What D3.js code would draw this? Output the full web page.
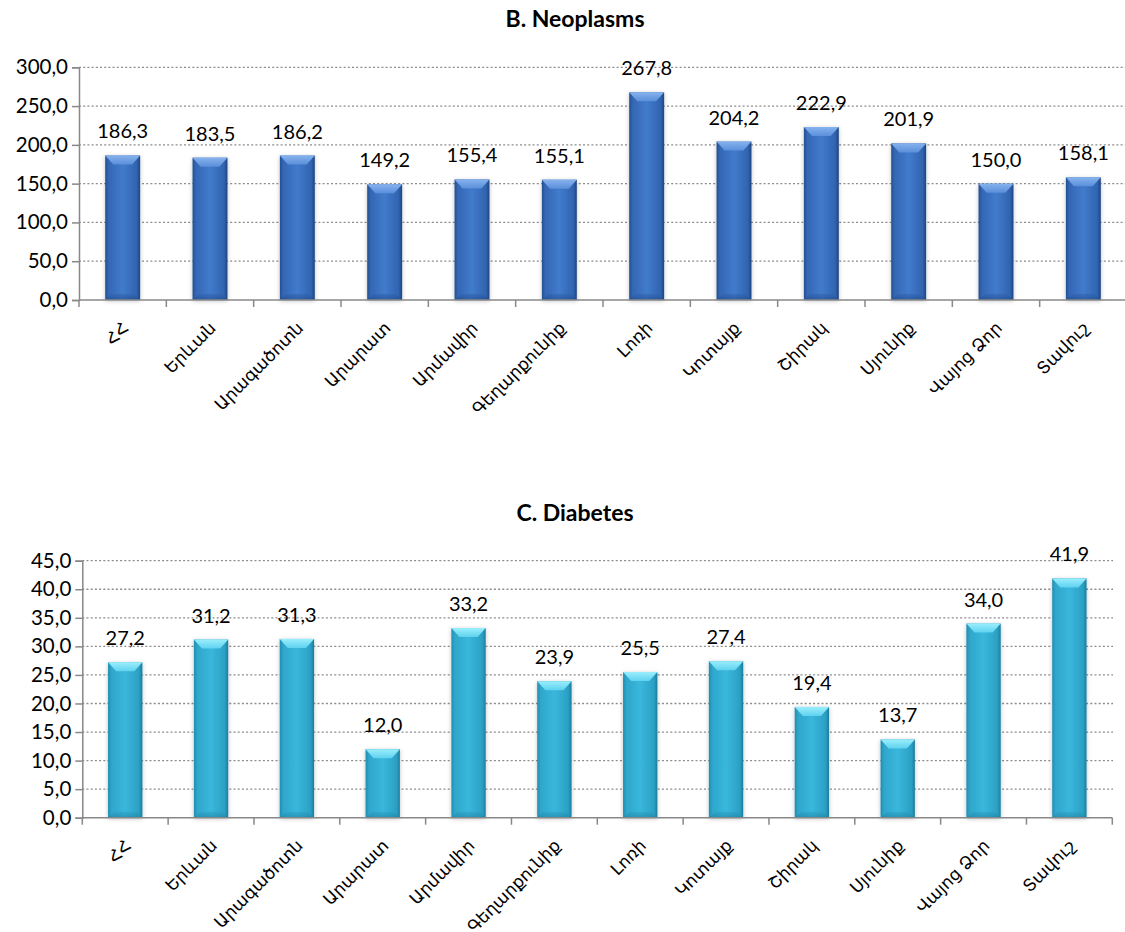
<!DOCTYPE html>
<html>
<head>
<meta charset="utf-8">
<script src="https://cdn.jsdelivr.net/npm/d3@7"></script>
<style>
  html, body { margin: 0; padding: 0; background: #fff; }
  svg { display: block; }
  text { font-family: Lato, "DejaVu Sans", sans-serif; fill: #000; }
</style>
</head>
<body>
<svg id="chart" width="1125" height="932"></svg>
<script>
// ---- data ----
const regions = ["ՀՀ", "Երևան", "Արագածոտն", "Արարատ", "Արմավիր", "Գեղարքունիք", "Լոռի", "Կոտայք", "Շիրակ", "Սյունիք", "Վայոց Ձոր", "Տավուշ"];
const neoplasms = [186.3, 183.5, 186.2, 149.2, 155.4, 155.1, 267.8, 204.2, 222.9, 201.9, 150.0, 158.1];
const diabetes = [27.2, 31.2, 31.3, 12.0, 33.2, 23.9, 25.5, 27.4, 19.4, 13.7, 34.0, 41.9];
const neoTicks = [0, 50, 100, 150, 200, 250, 300];
const diaTicks = [0, 5, 10, 15, 20, 25, 30, 35, 40, 45];
const titles = ["B. Neoplasms", "C. Diabetes"];

const svg = d3.select("#chart");
const defs = svg.append("defs");
const fmt = v => v.toFixed(1).replace(".", ",");

function makeGrad(id, stops, vertical) {
  const g = defs.append("linearGradient").attr("id", id)
    .attr("x1", "0").attr("y1", "0")
    .attr("x2", vertical ? "0" : "1").attr("y2", vertical ? "1" : "0");
  stops.forEach(s => g.append("stop").attr("offset", s[0]).attr("stop-color", s[1]));
}
makeGrad("bodyBlue", [[0, "#24508f"], [0.1, "#3467b5"], [0.5, "#427bcc"], [0.9, "#3064b0"], [1, "#1c4582"]]);
makeGrad("topBlue", [[0, "#86b2ee"], [1, "#5a8fda"]], true);
makeGrad("botBlue", [[0, "#2f62ad"], [1, "#1d447f"]], true);
makeGrad("bodyCyan", [[0, "#1f8db0"], [0.1, "#2fa6cb"], [0.5, "#3ab7dc"], [0.9, "#2ba0c4"], [1, "#1a7d9d"]]);
makeGrad("topCyan", [[0, "#9aeefc"], [1, "#5fd2ef"]], true);
makeGrad("botCyan", [[0, "#2aa0c4"], [1, "#1a7a98"]], true);

const shadow = defs.append("filter").attr("id", "shadow")
  .attr("x", "-30%").attr("y", "-10%").attr("width", "160%").attr("height", "120%");
shadow.append("feDropShadow").attr("dx", 0).attr("dy", 1).attr("stdDeviation", 2)
  .attr("flood-color", "#000").attr("flood-opacity", 0.25);

function drawChart(cfg) {
  const g = svg.append("g");
  const x = d3.scaleBand().domain(regions).range([cfg.x0, cfg.x1]).paddingInner(0.6).paddingOuter(0.3);
  const y = d3.scaleLinear().domain([0, cfg.max]).range([cfg.yBase, cfg.yTop]);

  // title
  g.append("text").attr("x", 575).attr("y", cfg.titleY)
    .attr("text-anchor", "middle").attr("font-weight", "bold").attr("font-size", 23)
    .text(cfg.title);

  // gridlines
  g.append("g").selectAll("line").data(cfg.ticks.filter(t => t > 0)).join("line")
    .attr("x1", cfg.x0).attr("x2", cfg.gridEnd)
    .attr("y1", d => y(d)).attr("y2", d => y(d))
    .attr("stroke", "#8c8c8c").attr("stroke-width", 1.3).attr("stroke-dasharray", "2,2.2");

  // y axis
  const yAxis = d3.axisLeft(y).tickValues(cfg.ticks).tickFormat(fmt).tickSize(7).tickPadding(4);
  const ya = g.append("g").attr("transform", `translate(${cfg.x0},0)`).call(yAxis);
  ya.select(".domain").attr("stroke", "#888").attr("stroke-width", 1.5);
  ya.selectAll(".tick line").attr("stroke", "#888").attr("stroke-width", 1.5);
  ya.selectAll(".tick text").attr("font-size", 20.5).attr("fill", "#000")
    .style("font-family", "Lato, 'DejaVu Sans', sans-serif");

  // bars
  const bars = g.append("g").selectAll("g").data(cfg.values).join("g")
    .attr("filter", "url(#shadow)");
  const bw = x.bandwidth();
  bars.append("rect")
    .attr("x", (d, i) => x(regions[i])).attr("y", d => y(d))
    .attr("width", bw).attr("height", d => cfg.yBase - y(d))
    .attr("fill", `url(#body${cfg.color})`);
  // top bevel
  const bev = 9;
  g.append("g").selectAll("path").data(cfg.values).join("path")
    .attr("d", (d, i) => {
      const l = x(regions[i]), r = l + bw, t = y(d);
      return `M${l},${t}L${r},${t}L${r - bev * 0.9},${t + bev}L${l + bev * 0.9},${t + bev}Z`;
    })
    .attr("fill", `url(#top${cfg.color})`);
  // bottom bevel
  g.append("g").selectAll("path").data(cfg.values).join("path")
    .attr("d", (d, i) => {
      const l = x(regions[i]), r = l + bw, b = cfg.yBase;
      return `M${l},${b}L${r},${b}L${r - 6},${b - 6}L${l + 6},${b - 6}Z`;
    })
    .attr("fill", `url(#bot${cfg.color})`).attr("opacity", 0.5);

  // x axis
  const xa = g.append("g");
  xa.append("line").attr("x1", cfg.x0).attr("x2", cfg.x1)
    .attr("y1", cfg.yBase).attr("y2", cfg.yBase)
    .attr("stroke", "#888").attr("stroke-width", 1.5);
  const step = x.step();
  xa.selectAll("line.tk").data(d3.range(regions.length + 1)).join("line").attr("class", "tk")
    .attr("x1", i => cfg.x0 + i * step).attr("x2", i => cfg.x0 + i * step)
    .attr("y1", cfg.yBase).attr("y2", cfg.yBase + 7)
    .attr("stroke", "#888").attr("stroke-width", 1.5);

  // category labels
  xa.selectAll("text").data(regions).join("text")
    .attr("transform", d => `translate(${x(d) + bw / 2 + 7},${cfg.yBase + 29}) rotate(-45)`)
    .attr("text-anchor", "end").attr("font-size", 17)
    .style("font-family", "'DejaVu Sans', sans-serif")
    .text(d => d);

  // value labels
  g.append("g").selectAll("text").data(cfg.values).join("text")
    .attr("x", (d, i) => x(regions[i]) + bw / 2).attr("y", d => y(d) - 17)
    .attr("text-anchor", "middle").attr("font-size", 20)
    .text(d => fmt(d));
}

drawChart({ title: titles[0], values: neoplasms, ticks: neoTicks, max: 300,
  x0: 79, x1: 1127, gridEnd: 1127, yBase: 300, yTop: 67.3, titleY: 27, color: "Blue" });
drawChart({ title: titles[1], values: diabetes, ticks: diaTicks, max: 45,
  x0: 82.3, x1: 1112.3, gridEnd: 1113, yBase: 817.7, yTop: 560.7, titleY: 521, color: "Cyan" });
</script>
</body>
</html>
